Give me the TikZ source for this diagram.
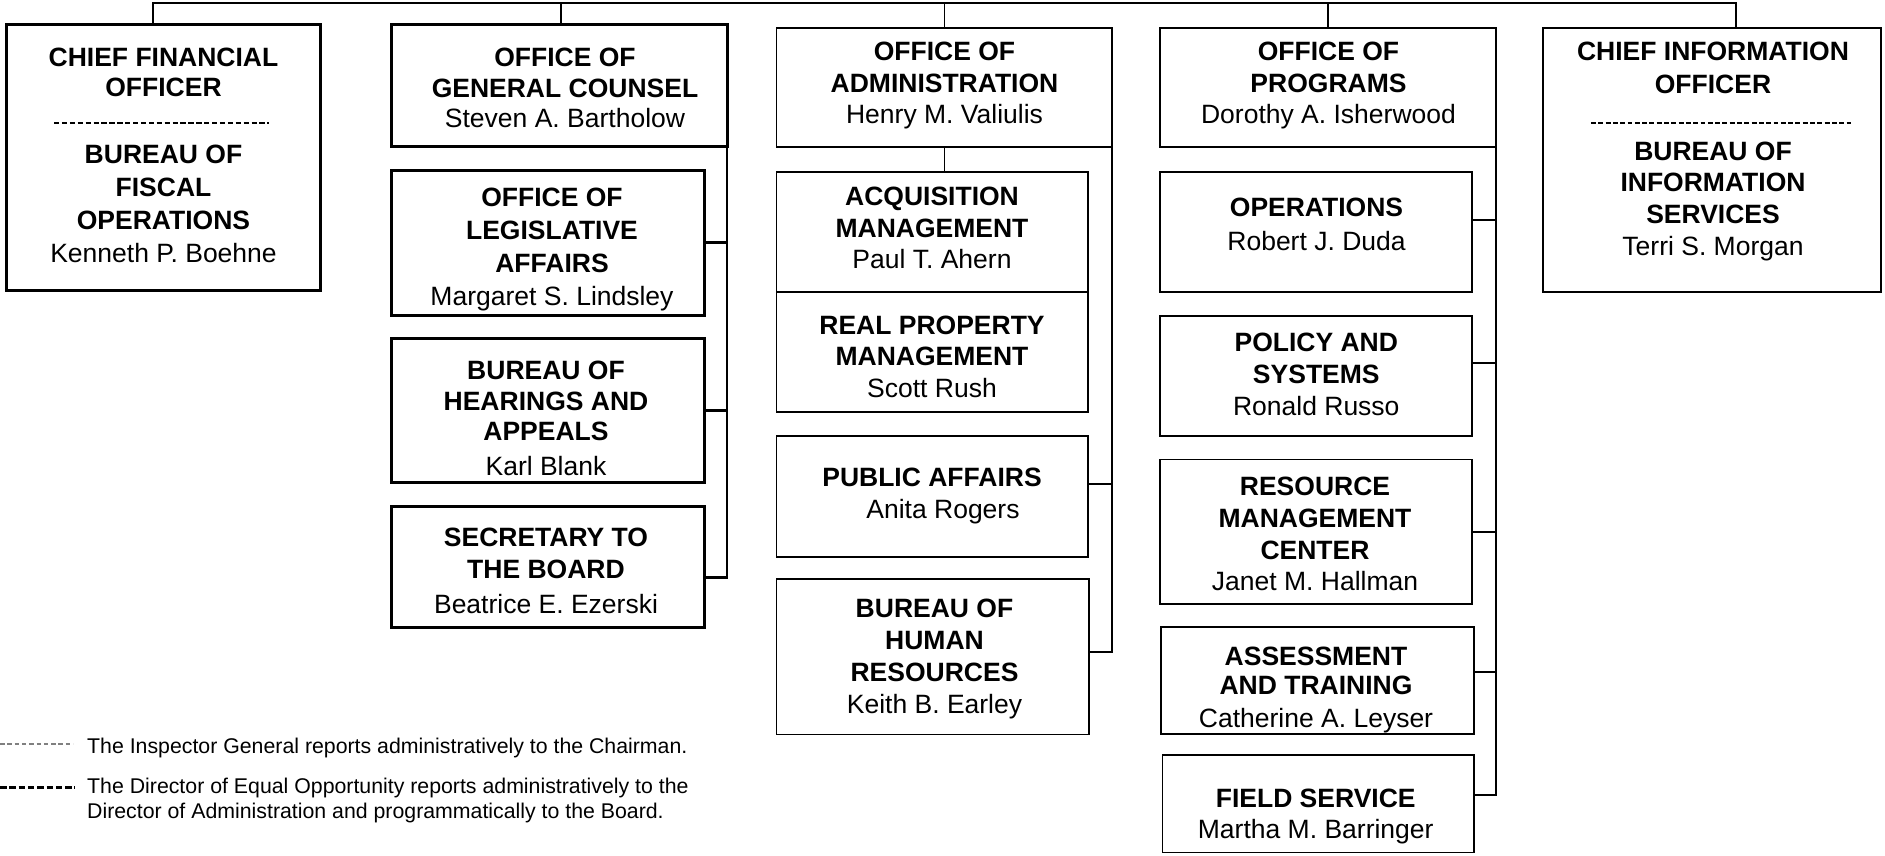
\documentclass[tikz,border=0pt]{standalone}
\usepackage{fontspec}
\setmainfont{Liberation Sans}
\usetikzlibrary{calc}

% box from its corners: name, x1, y1, x2, y2, style
\newcommand\orgbox[6]{%
  \node[#6, minimum width={(#4)-(#2)}, minimum height={(#5)-(#3)}]
    (#1) at ({((#2)+(#4))/2},{((#3)+(#5))/2}) {};}

% text blocks are placed by the baseline of their last line
\tikzset{
  tbox/.style={draw, rectangle, line width=3pt, inner sep=0pt, outer sep=0pt},
  nbox/.style={draw, rectangle, line width=1.7pt, inner sep=0pt, outer sep=0pt},
  link/.style={draw, line width=1.7pt},
  tlink/.style={draw, line width=2.8pt},
  txt/.style={align=center, inner sep=0pt, anchor=base,
    font=\fontsize{26.5}{#1}\selectfont},
  sepline/.style={line width=1.6pt, dash pattern=on 5.3pt off 2.6pt},
  legtxt/.style={align=left, inner sep=0pt, anchor=base west,
    font=\fontsize{21.3}{25}\selectfont},
}

\begin{document}
\begin{tikzpicture}[x=1pt, y=-1pt]
\useasboundingbox (0,0) rectangle (1885,856);

% ---- boxes ----
\orgbox{cfo}{6.8}{25}{320}{290.7}{tbox}
\orgbox{gc}{391.7}{25}{727}{146.7}{tbox}
\orgbox{leg}{391.7}{170.7}{704}{315}{tbox}
\orgbox{hear}{391.7}{338.3}{704}{482}{tbox}
\orgbox{sec}{391.7}{506.7}{704}{627.3}{tbox}

\orgbox{adm}{776.4}{27.7}{1112.3}{147.3}{nbox}
\orgbox{acq}{776.4}{171.7}{1088}{292}{nbox}
\orgbox{rpm}{776.4}{292}{1088}{411.7}{nbox}
\orgbox{pa}{776.4}{435.8}{1088}{556.7}{nbox}
\orgbox{hr}{776.4}{579}{1089}{734.4}{nbox}

\orgbox{prog}{1160.3}{27.7}{1496}{146.7}{nbox}
\orgbox{ops}{1160.3}{171.7}{1472}{292.3}{nbox}
\orgbox{pol}{1160.3}{316}{1472}{435.8}{nbox}
\orgbox{rmc}{1160.3}{459.6}{1472}{604}{nbox}
\orgbox{ast}{1161}{627.3}{1474}{734.3}{nbox}
\orgbox{fs}{1162.5}{755}{1474}{852.5}{nbox}

\orgbox{cio}{1543.3}{28.3}{1880.7}{292}{nbox}

% ---- box texts ----
\node[txt=30] (cfo-a) at (163.5,96.7) {\textbf{CHIEF FINANCIAL}\\\textbf{OFFICER}};
\coordinate (cfo-s1) at (54,123);
\coordinate (cfo-s2) at (269,123);
\draw[sepline] (cfo-s1) -- (cfo-s2);
\node[txt=33] (cfo-b) at (163.5,262) {\textbf{BUREAU OF}\\\textbf{FISCAL}\\\textbf{OPERATIONS}\\Kenneth P. Boehne};

\node[txt=30.5] (gc-t) at (565,127.7) {\textbf{OFFICE OF}\\\textbf{GENERAL COUNSEL}\\Steven A. Bartholow};
\node[txt=32.8] (leg-t) at (552,305.1) {\textbf{OFFICE OF}\\\textbf{LEGISLATIVE}\\\textbf{AFFAIRS}\\Margaret S. Lindsley};
\node[txt=30.7] (hear-t) at (546,475) {\textbf{BUREAU OF}\\\textbf{HEARINGS AND}\\\textbf{APPEALS}\\[3.6pt]Karl Blank};
\node[txt=31.6] (sec-t) at (546,613.9) {\textbf{SECRETARY TO}\\\textbf{THE BOARD}\\[4pt]Beatrice E. Ezerski};

\node[txt=31.5] (adm-t) at (944.5,124) {\textbf{OFFICE OF}\\\textbf{ADMINISTRATION}\\Henry M. Valiulis};
\node[txt=31.3] (acq-t) at (932,268.3) {\textbf{ACQUISITION}\\\textbf{MANAGEMENT}\\Paul T. Ahern};
\node[txt=31.5] (rpm-t) at (932,397.4) {\textbf{REAL PROPERTY}\\\textbf{MANAGEMENT}\\Scott Rush};
\node[txt=32.3] (pa-t) at (932,518.3) {\textbf{PUBLIC AFFAIRS}\\\hspace*{22pt}Anita Rogers};
\node[txt=32] (hr-t) at (934.5,713.3) {\textbf{BUREAU OF}\\\textbf{HUMAN}\\\textbf{RESOURCES}\\Keith B. Earley};

\node[txt=31.5] (prog-t) at (1328.5,124) {\textbf{OFFICE OF}\\\textbf{PROGRAMS}\\Dorothy A. Isherwood};
\node[txt=33.3] (ops-t) at (1316.5,250) {\textbf{OPERATIONS}\\Robert J. Duda};
\node[txt=32] (pol-t) at (1316.3,415.4) {\textbf{POLICY AND}\\\textbf{SYSTEMS}\\Ronald Russo};
\node[txt=31.7] (rmc-t) at (1315,590.8) {\textbf{RESOURCE}\\\textbf{MANAGEMENT}\\\textbf{CENTER}\\Janet M. Hallman};
\node[txt=29] (ast-t) at (1316,727.3) {\textbf{ASSESSMENT}\\\textbf{AND TRAINING}\\[4.3pt]Catherine A. Leyser};
\node[txt=30.6] (fs-t) at (1315.7,838.3) {\textbf{FIELD SERVICE}\\Martha M. Barringer};

\node[txt=32.6] (cio-a) at (1713,93.3) {\textbf{CHIEF INFORMATION}\\\textbf{OFFICER}};
\coordinate (cio-s1) at (1591,123.3);
\coordinate (cio-s2) at (1853,123.3);
\draw[sepline, dash pattern=on 4.9pt off 2.4pt] (cio-s1) -- (cio-s2);
\node[txt=31.7] (cio-b) at (1713,255.1) {\textbf{BUREAU OF}\\\textbf{INFORMATION}\\\textbf{SERVICES}\\Terri S. Morgan};

% ---- top bus and drops ----
\coordinate (busL) at (152.7,3);
\coordinate (busR) at (1736,3);
\coordinate (gcdrop) at (561,3);
\draw[link] (busL |- cfo.north) -- (busL) -- (busR) -- (busR |- cio.north);
\draw[link] (gcdrop) -- (gcdrop |- gc.north);
\draw[link] (adm.north |- busL) -- (adm.north);
\draw[link] (prog.north |- busL) -- (prog.north);

% ---- General Counsel column ----
\coordinate (sec-j) at ($(sec.north east)+(0,70.6)$);
\draw[tlink] (gc.south east) -- (gc.south east |- sec-j) -- (sec-j);
\draw[tlink] (leg.east) -- (leg.east -| gc.east);
\draw[tlink] (hear.east) -- (hear.east -| gc.east);

% ---- Administration column ----
\draw[link] (adm.south) -- (adm.south |- acq.north);
\coordinate (hr-j) at ($(hr.east)+(0,-5)$);
\coordinate (pa-j) at ($(pa.east)+(0,-12.2)$);
\draw[link] (adm.south east) -- (adm.south east |- hr-j) -- (hr-j);
\draw[link] (pa-j) -- (pa-j -| adm.east);

% ---- Programs column ----
\coordinate (fs-j) at ($(fs.east)+(0,-9)$);
\coordinate (ops-j) at ($(ops.east)+(0,-12)$);
\coordinate (pol-j) at ($(pol.east)+(0,-12.9)$);
\coordinate (rmc-j) at ($(rmc.east)+(0,0.5)$);
\coordinate (ast-j) at ($(ast.east)+(0,-8.5)$);
\draw[link] (prog.south east) -- (prog.south east |- fs-j) -- (fs-j);
\draw[link] (ops-j) -- (ops-j -| prog.east);
\draw[link] (pol-j) -- (pol-j -| prog.east);
\draw[link] (rmc-j) -- (rmc-j -| prog.east);
\draw[link] (ast-j) -- (ast-j -| prog.east);

% ---- legend ----
\coordinate (lg1a) at (0,744);
\coordinate (lg1b) at (73,744);
\draw[gray, line width=1.5pt, dash pattern=on 4.5pt off 2.8pt] (lg1a) -- (lg1b);
\node[legtxt] (lg1t) at (87,753.5) {The Inspector General reports administratively to the Chairman.};
\coordinate (lg2a) at (0,787.7);
\coordinate (lg2b) at (75,787.7);
\draw[line width=2.6pt, dash pattern=on 6.5pt off 2.8pt] (lg2a) -- (lg2b);
\node[legtxt] (lg2t) at (87,818.5) {The Director of Equal Opportunity reports administratively to the\\Director of Administration and programmatically to the Board.};
\end{tikzpicture}
\end{document}
